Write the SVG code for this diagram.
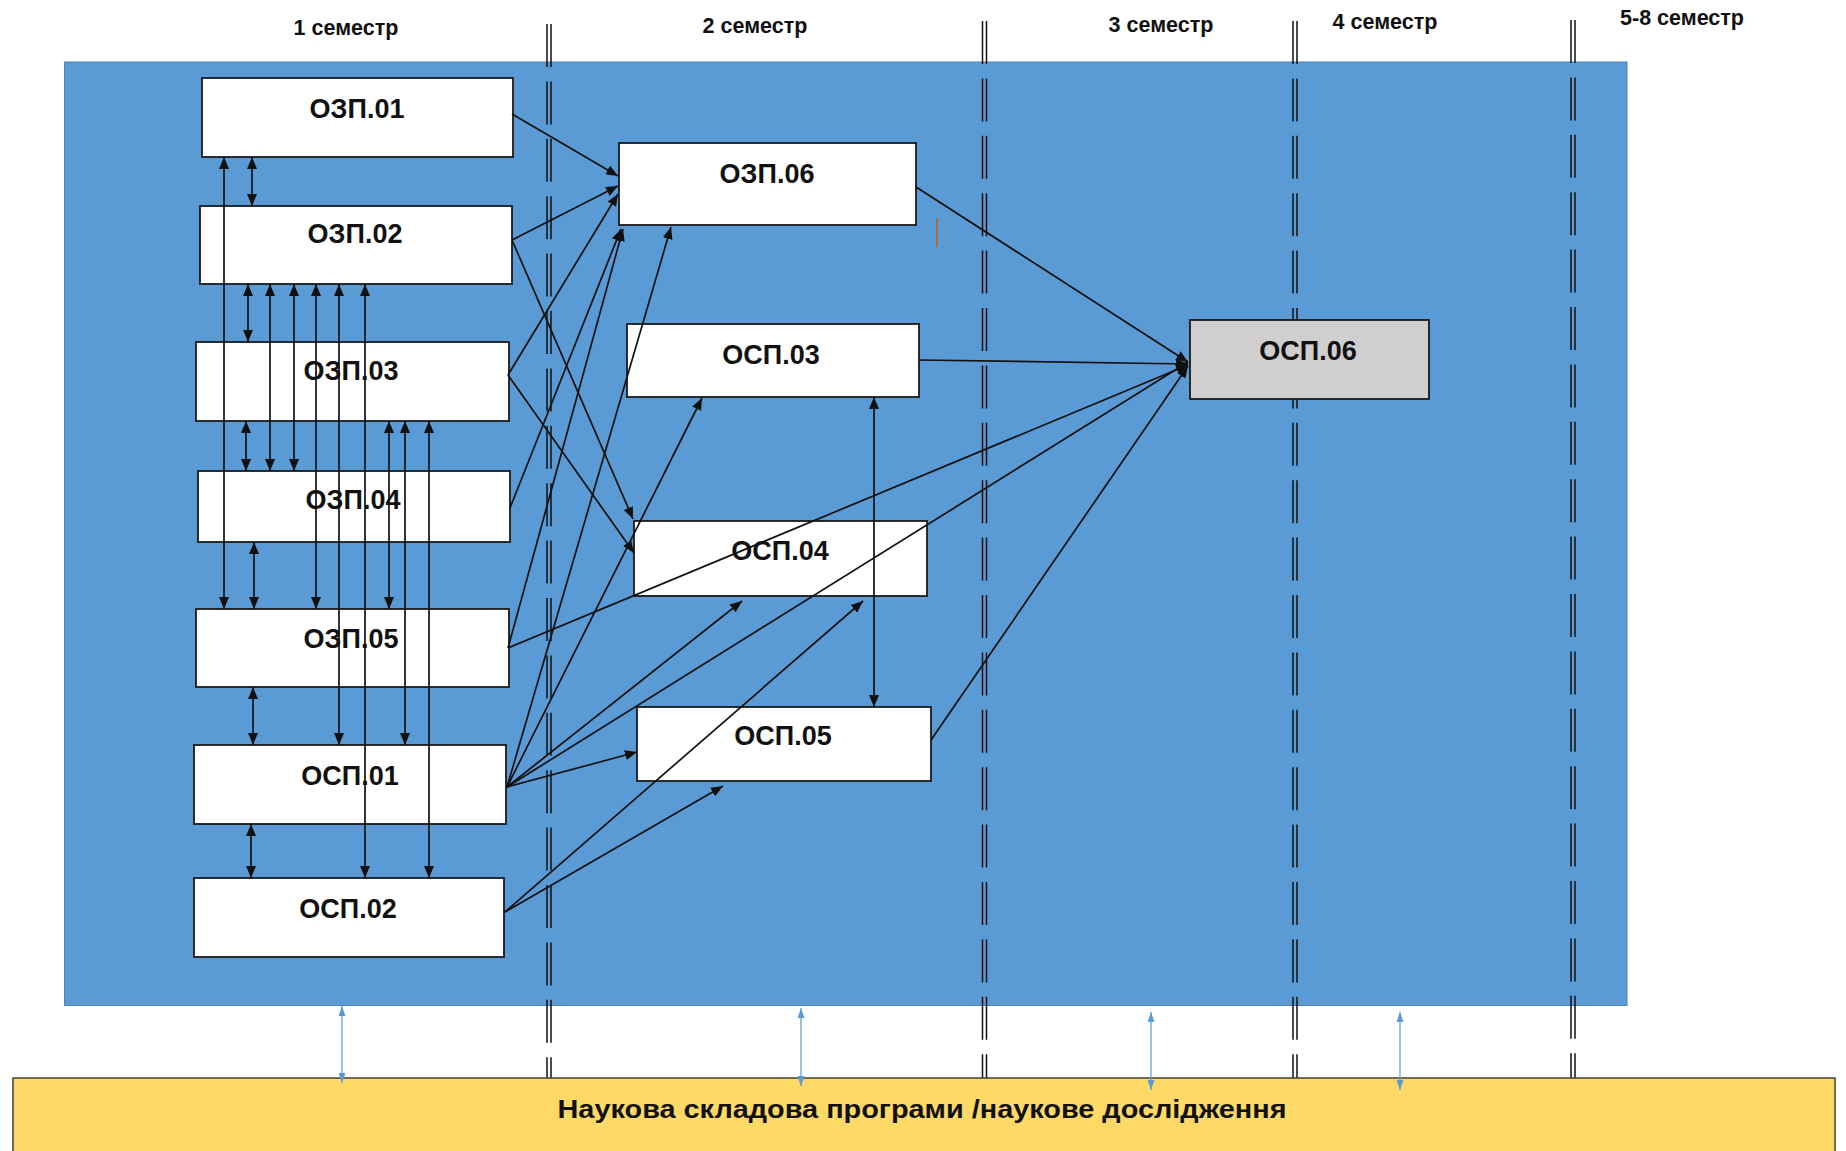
<svg xmlns="http://www.w3.org/2000/svg" width="1846" height="1151" viewBox="0 0 1846 1151">
<style>
.bg{fill:#5B9BD5;stroke:#4A84BE;stroke-width:1}
.sci{fill:#FFD966;stroke:#404040;stroke-width:1.5}
.box{fill:#ffffff;stroke:#1a1a1a;stroke-width:1.8}
.gray{fill:#D0CECE;stroke:#1a1a1a;stroke-width:1.8}
.lbl{font-family:"Liberation Sans",Arial,sans-serif;font-weight:bold;font-size:27px;fill:#111;text-anchor:middle}
.sem{font-family:"Liberation Sans",Arial,sans-serif;font-weight:bold;font-size:21.5px;fill:#111;text-anchor:middle}
.ttl{font-family:"Liberation Sans",Arial,sans-serif;font-weight:bold;font-size:26px;fill:#111;text-anchor:middle}
.div{stroke:#111;stroke-width:1.5;stroke-dasharray:43 14.4;fill:none}
.c{stroke:#111;stroke-width:1.7;fill:none;marker-end:url(#ah)}
.d{stroke:#111;stroke-width:1.7;fill:none;marker-start:url(#ah);marker-end:url(#ah)}
.b{stroke:#5B9BD5;stroke-width:1.2;fill:none;marker-start:url(#bh);marker-end:url(#bh)}
</style>
<defs>
<marker id="ah" viewBox="0 0 12 10" refX="12" refY="5" markerWidth="12" markerHeight="10" markerUnits="userSpaceOnUse" orient="auto-start-reverse">
<path d="M0,0 L12,5 L0,10 Z" fill="#111"/>
</marker>
<marker id="bh" viewBox="0 0 10 7" refX="10" refY="3.5" markerWidth="10" markerHeight="7" markerUnits="userSpaceOnUse" orient="auto-start-reverse">
<path d="M0,0 L10,3.5 L0,7 Z" fill="#5B9BD5"/>
</marker>
</defs>

<rect x="0" y="0" width="1846" height="1151" fill="#ffffff"/>
<rect class="bg" x="64.5" y="62" width="1562.5" height="943.5"/>

<g id="semesters">
<text class="sem" x="346" y="35">1 семестр</text>
<text class="sem" x="755" y="33">2 семестр</text>
<text class="sem" x="1161" y="32">3 семестр</text>
<text class="sem" x="1385" y="29">4 семестр</text>
<text class="sem" x="1682" y="25">5-8 семестр</text>
</g>

<g id="dividers">
<line class="div" x1="547" y1="24" x2="547" y2="1078"/>
<line class="div" x1="551" y1="24" x2="551" y2="1078"/>
<line class="div" x1="982.5" y1="21" x2="982.5" y2="1078"/>
<line class="div" x1="986.5" y1="21" x2="986.5" y2="1078"/>
<line class="div" x1="1293" y1="21" x2="1293" y2="1078"/>
<line class="div" x1="1297" y1="21" x2="1297" y2="1078"/>
<line class="div" x1="1571" y1="20" x2="1571" y2="1078"/>
<line class="div" x1="1575" y1="20" x2="1575" y2="1078"/>
</g>

<g id="science">
<rect class="sci" x="13" y="1078" width="1822" height="80"/>
<text class="ttl" x="922" y="1118" textLength="729" lengthAdjust="spacingAndGlyphs">Наукова складова програми /наукове дослідження</text>
</g>

<g id="ozp01"><rect class="box" x="202" y="78" width="311" height="79"/><text class="lbl" x="357" y="118">ОЗП.01</text></g>
<g id="ozp02"><rect class="box" x="200" y="206" width="312" height="78"/><text class="lbl" x="355" y="243">ОЗП.02</text></g>
<g id="ozp03"><rect class="box" x="196" y="342" width="313" height="79"/><text class="lbl" x="351" y="380">ОЗП.03</text></g>
<g id="ozp04"><rect class="box" x="198" y="471" width="312" height="71"/><text class="lbl" x="353" y="509">ОЗП.04</text></g>
<g id="ozp05"><rect class="box" x="196" y="609" width="313" height="78"/><text class="lbl" x="351" y="648">ОЗП.05</text></g>
<g id="osp01"><rect class="box" x="194" y="745" width="312" height="79"/><text class="lbl" x="350" y="785">ОСП.01</text></g>
<g id="osp02"><rect class="box" x="194" y="878" width="310" height="79"/><text class="lbl" x="348" y="918">ОСП.02</text></g>
<g id="ozp06"><rect class="box" x="619" y="143" width="297" height="82"/><text class="lbl" x="767" y="183">ОЗП.06</text></g>
<g id="osp03"><rect class="box" x="627" y="324" width="292" height="73"/><text class="lbl" x="771" y="364">ОСП.03</text></g>
<g id="osp04"><rect class="box" x="634" y="521" width="293" height="75"/><text class="lbl" x="780" y="560">ОСП.04</text></g>
<g id="osp05"><rect class="box" x="637" y="707" width="294" height="74"/><text class="lbl" x="783" y="745">ОСП.05</text></g>
<g id="osp06"><rect class="gray" x="1190" y="320" width="239" height="79"/><text class="lbl" x="1308" y="360">ОСП.06</text></g>

<line x1="937" y1="218" x2="937" y2="247" stroke="#C55A11" stroke-width="1.5"/>

<g id="connectors">
<line class="d" x1="224" y1="157" x2="224" y2="609"/>
<line class="d" x1="252" y1="157" x2="252" y2="206"/>
<line class="d" x1="248" y1="284" x2="248" y2="342"/>
<line class="d" x1="270" y1="284" x2="270" y2="471"/>
<line class="d" x1="294" y1="284" x2="294" y2="471"/>
<line class="d" x1="316" y1="284" x2="316" y2="609"/>
<line class="d" x1="339" y1="284" x2="339" y2="745"/>
<line class="d" x1="365" y1="284" x2="365" y2="878"/>
<line class="d" x1="246" y1="421" x2="246" y2="471"/>
<line class="d" x1="389" y1="421" x2="389" y2="609"/>
<line class="d" x1="405" y1="421" x2="405" y2="745"/>
<line class="d" x1="429" y1="421" x2="429" y2="878"/>
<line class="d" x1="254" y1="542" x2="254" y2="609"/>
<line class="d" x1="253" y1="687" x2="253" y2="745"/>
<line class="d" x1="251" y1="824" x2="251" y2="878"/>

<line class="c" x1="512" y1="114" x2="618" y2="176"/>
<line class="c" x1="512" y1="240" x2="618" y2="186"/>
<line class="c" x1="512" y1="240" x2="633" y2="519"/>
<line class="c" x1="508" y1="375" x2="618" y2="194"/>
<line class="c" x1="508" y1="375" x2="634" y2="553"/>
<line class="c" x1="510" y1="508" x2="621" y2="229"/>
<line class="c" x1="508" y1="648" x2="623" y2="229"/>
<line class="c" x1="508" y1="648" x2="1188" y2="365"/>
<line class="c" x1="507" y1="787" x2="671" y2="227"/>
<line class="c" x1="507" y1="787" x2="702" y2="398"/>
<line class="c" x1="507" y1="787" x2="742" y2="601"/>
<line class="c" x1="507" y1="787" x2="637" y2="752"/>
<line class="c" x1="507" y1="787" x2="1188" y2="362"/>
<line class="c" x1="505" y1="912" x2="723" y2="786"/>
<line class="c" x1="505" y1="912" x2="863" y2="601"/>
<line class="c" x1="916" y1="187" x2="1188" y2="362"/>
<line class="c" x1="919" y1="360" x2="1188" y2="364"/>
<line class="c" x1="931" y1="740" x2="1188" y2="366"/>
<line class="d" x1="874" y1="397" x2="874" y2="707"/>

<line class="b" x1="342" y1="1006" x2="342" y2="1083"/>
<line class="b" x1="801" y1="1008" x2="801" y2="1086"/>
<line class="b" x1="1151" y1="1012" x2="1151" y2="1090"/>
<line class="b" x1="1400" y1="1012" x2="1400" y2="1090"/>
</g>
</svg>
